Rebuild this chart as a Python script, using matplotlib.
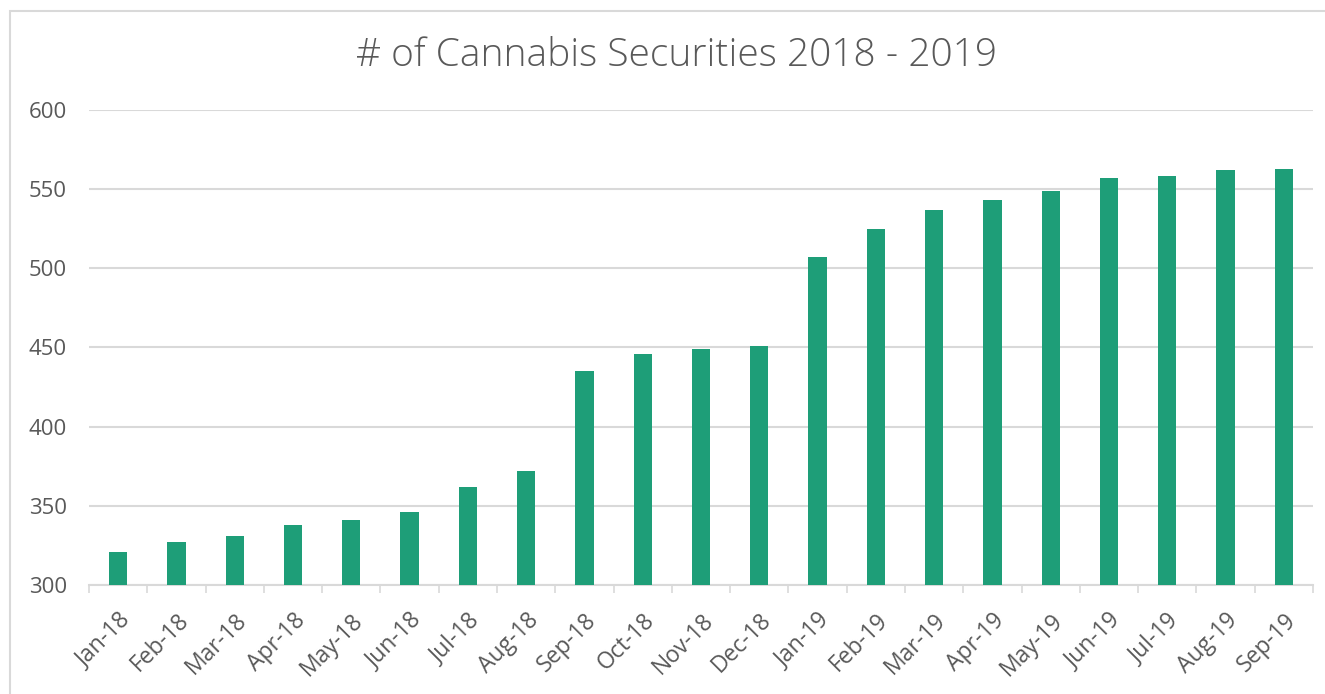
import numpy as np
import matplotlib
matplotlib.use("Agg")
import matplotlib.pyplot as plt
from matplotlib.patches import Rectangle

# data
months = ["Jan-18", "Feb-18", "Mar-18", "Apr-18", "May-18", "Jun-18", "Jul-18",
          "Aug-18", "Sep-18", "Oct-18", "Nov-18", "Dec-18", "Jan-19", "Feb-19",
          "Mar-19", "Apr-19", "May-19", "Jun-19", "Jul-19", "Aug-19", "Sep-19"]
securities = [321, 327, 331, 338, 341, 346, 362, 372, 435, 446, 449, 451,
              507, 525, 537, 543, 549, 557, 558, 562, 563]
y_ticks = [300, 350, 400, 450, 500, 550, 600]

bar_color = "#1E9E78"
text_color = "#595959"
grid_color = "#D9D9D9"

plt.rcParams["font.family"] = ["Open Sans", "DejaVu Sans"]

fig = plt.figure(figsize=(13.25, 6.94), dpi=100)
ax = fig.add_axes([89 / 1325, 1 - 585 / 694, (1313 - 89) / 1325, (585 - 110) / 694])

x = np.arange(len(months))
ax.bar(x, np.array(securities) - 300, bottom=300, width=0.315, color=bar_color, zorder=3)

ax.set_xlim(-0.5, len(months) - 0.5)
ax.set_ylim(300, 600)
ax.set_yticks(y_ticks)
ax.set_yticklabels([str(v) for v in y_ticks], fontsize=16, color=text_color)
ax.tick_params(axis="y", length=0, pad=16)
ax.yaxis.grid(True, color=grid_color, linewidth=1.5, zorder=0)

# ticks between categories, labels at category centres
ax.set_xticks(np.arange(len(months) + 1) - 0.5)
ax.set_xticklabels([])
ax.tick_params(axis="x", length=6, width=1.2, color=grid_color, direction="out")
ax.set_xticks(x, minor=True)
ax.set_xticklabels(months, minor=True, rotation=45, ha="right", va="top",
                   rotation_mode="anchor", fontsize=16.5, color=text_color)
ax.tick_params(axis="x", which="minor", length=0, pad=17)

for side in ["top", "right", "left"]:
    ax.spines[side].set_visible(False)
ax.spines["bottom"].set_color(grid_color)
ax.spines["bottom"].set_linewidth(1.5)

fig.text(676 / 1325, 1 - 56 / 694, "# of Cannabis Securities 2018 - 2019", ha="center", va="center",
         fontsize=28, color=text_color, fontweight="light")

# chart border
fig.patches.append(Rectangle((10 / 1325, -0.1), 1.2, 1 - 11 / 694 + 0.1, transform=fig.transFigure,
                             fill=False, edgecolor=grid_color, linewidth=1.5))

fig.savefig("out.png", dpi=100, facecolor="white")
